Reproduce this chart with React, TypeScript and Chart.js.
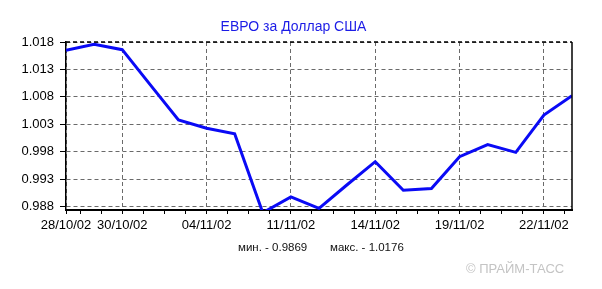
import React, { useEffect, useRef } from "react";
import { Chart, registerables } from "chart.js";

Chart.register(...registerables);

const TITLE = "ЕВРО за Доллар США";
const MIN_TEXT = "мин. - 0.9869";
const MAX_TEXT = "макс. - 1.0176";
const COPYRIGHT = "© ПРАЙМ-ТАСС";

// one value per trading point, left to right
const rates = [
  1.0165, 1.0176, 1.0166, 1.0102, 1.0038, 1.0023, 1.0013, 0.9869, 0.9898,
  0.9877, 0.992, 0.9962, 0.991, 0.9913, 0.9971, 0.9993, 0.9979, 1.0047, 1.0082,
];

const xLabels = ["28/10/02", "30/10/02", "04/11/02", "11/11/02", "14/11/02", "19/11/02", "22/11/02"];
const xLabelIndex = [0, 2, 5, 8, 11, 14, 17];
const xMinorTicks = [
  0.5, 1.25, 2.75, 3.5, 4.25, 5.75, 6.5, 7.25, 8.75, 9.5, 10.25, 11.75, 12.5,
  13.25, 14.75, 15.5, 16.25, 17.75,
];
const yTicks = [0.988, 0.993, 0.998, 1.003, 1.008, 1.013, 1.018];
const yMin = 0.9874;
const yMax = 1.018;

const FONT = "'Liberation Sans', Arial, sans-serif";

const frameBorder = {
  id: "frameBorder",
  afterDraw(chart: any) {
    const { ctx, chartArea } = chart;
    ctx.save();
    ctx.strokeStyle = "#000";
    ctx.lineWidth = 1.5;
    ctx.beginPath();
    ctx.moveTo(chartArea.right, chartArea.top);
    ctx.lineTo(chartArea.right, chartArea.bottom);
    ctx.stroke();
    ctx.setLineDash([4, 3]);
    ctx.lineWidth = 1.5;
    ctx.beginPath();
    ctx.moveTo(chartArea.left, chartArea.top);
    ctx.lineTo(chartArea.right, chartArea.top);
    ctx.stroke();
    ctx.restore();
  },
};

export default function App() {
  const ref = useRef<HTMLCanvasElement | null>(null);

  useEffect(() => {
    if (!ref.current) return;
    const isMajor = (v: number) => xLabelIndex.includes(v);
    const chart = new Chart(ref.current, {
      type: "line",
      data: {
        datasets: [
          {
            data: rates.map((v, i) => ({ x: i, y: v })),
            borderColor: "#0a0af5",
            borderWidth: 3,
            pointRadius: 0,
            tension: 0,
            fill: false,
          },
        ],
      },
      options: {
        animation: false,
        responsive: true,
        maintainAspectRatio: false,
        layout: { padding: { top: 42, right: 30, left: 0, bottom: 0 } },
        plugins: { legend: { display: false }, tooltip: { enabled: false }, title: { display: false } },
        scales: {
          x: {
            type: "linear",
            min: 0,
            max: rates.length - 1,
            afterBuildTicks: (scale: any) => {
              const vals = [...xLabelIndex, ...xMinorTicks].sort((a, b) => a - b);
              scale.ticks = vals.map((v) => ({ value: v }));
            },
            afterFit: (scale: any) => {
              scale.height = 79;
            },
            grid: {
              color: (ctx: any) => (ctx.tick && isMajor(ctx.tick.value) ? "#6a6a6a" : "rgba(0,0,0,0)"),
              tickColor: "#000",
              tickLength: 4,
              lineWidth: 1,
            },
            border: { color: "#000", width: 2, dash: [4, 3] },
            ticks: {
              autoSkip: false,
              maxRotation: 0,
              minRotation: 0,
              padding: 4,
              color: "#000",
              font: { family: FONT, size: 13 },
              callback: (value: any) => {
                const k = xLabelIndex.indexOf(Number(value));
                return k >= 0 ? xLabels[k] : "";
              },
            },
          },
          y: {
            min: yMin,
            max: yMax,
            afterBuildTicks: (scale: any) => {
              scale.ticks = yTicks.map((v) => ({ value: v }));
            },
            afterFit: (scale: any) => {
              scale.width = 66;
            },
            grid: {
              color: "#6a6a6a",
              tickColor: "#000",
              tickLength: 6,
              lineWidth: 1,
            },
            border: { color: "#000", width: 1.5, dash: [4, 3] },
            ticks: {
              padding: 6,
              color: "#000",
              font: { family: FONT, size: 13 },
              callback: (value: any) => Number(value).toFixed(3),
            },
          },
        },
      },
      plugins: [frameBorder],
    });
    return () => chart.destroy();
  }, []);

  return (
    <div
      style={{
        position: "absolute",
        left: 0,
        top: 0,
        width: 602,
        height: 289,
        background: "#fff",
        fontFamily: FONT,
      }}
    >
      <canvas ref={ref} />
      <div
        style={{
          position: "absolute",
          left: 0,
          width: 587,
          top: 17,
          textAlign: "center",
          color: "#1c1ce6",
          fontSize: 14,
          lineHeight: "18px",
          whiteSpace: "nowrap",
        }}
      >
        {TITLE}
      </div>
      <div
        style={{
          position: "absolute",
          left: 238,
          top: 240,
          color: "#111",
          fontSize: 11.5,
          lineHeight: "15px",
          whiteSpace: "nowrap",
        }}
      >
        {MIN_TEXT}
      </div>
      <div
        style={{
          position: "absolute",
          left: 330,
          top: 240,
          color: "#111",
          fontSize: 11.5,
          lineHeight: "15px",
          whiteSpace: "nowrap",
        }}
      >
        {MAX_TEXT}
      </div>
      <div
        style={{
          position: "absolute",
          left: 466,
          top: 261,
          color: "#c4c4c4",
          fontSize: 13,
          lineHeight: "16px",
          whiteSpace: "nowrap",
        }}
      >
        {COPYRIGHT}
      </div>
    </div>
  );
}
